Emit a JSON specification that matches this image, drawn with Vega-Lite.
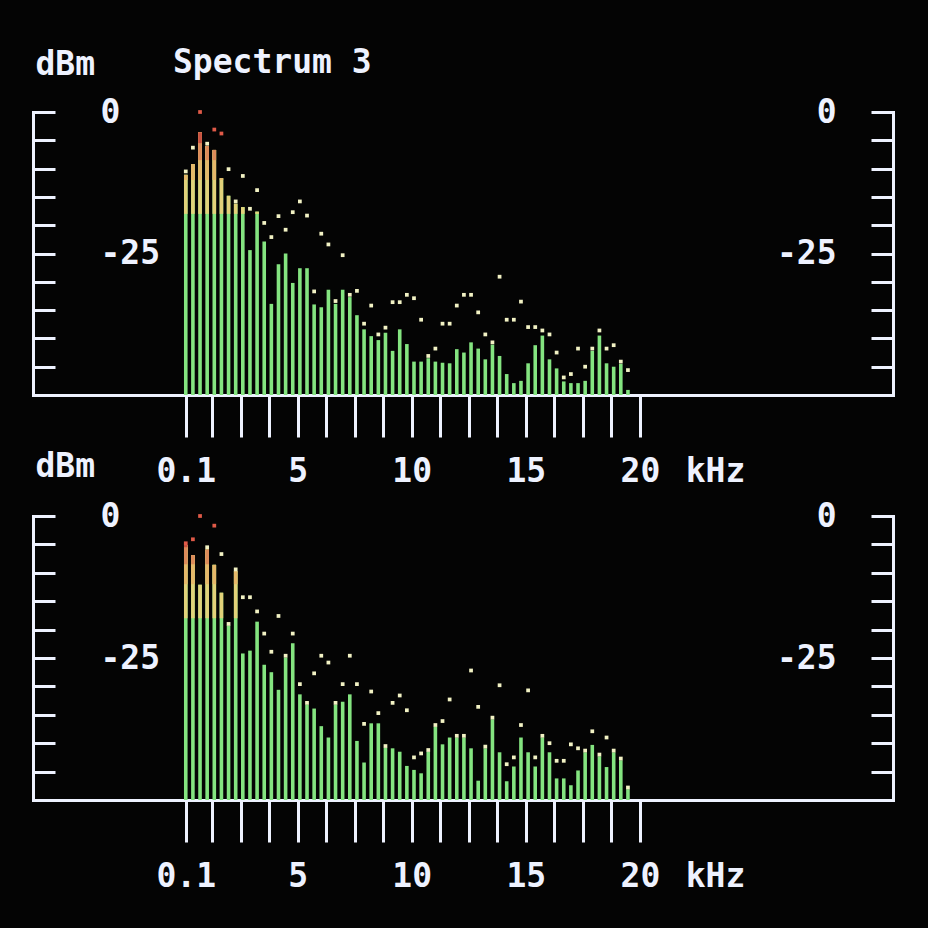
{
  "$schema": "https://vega.github.io/schema/vega-lite/v6.json",
  "background": "#040404",
  "padding": {"left": 31, "top": 47, "right": 35, "bottom": 130},
  "bounds": "flush",
  "spacing": 121,
  "config": {
    "view": {"stroke": null},
    "axis": {
      "grid": false,
      "domainColor": "#eef2ff",
      "domainWidth": 3,
      "domainCap": "square",
      "tickColor": "#eef2ff",
      "tickWidth": 3,
      "labelFont": "DejaVu Sans Mono",
      "labelFontSize": 33,
      "labelFontWeight": "bold",
      "labelColor": "#eef2ff",
      "labelFlush": false,
      "labelOverlap": false,
      "labelBound": false,
      "titleFont": "DejaVu Sans Mono",
      "titleFontSize": 33,
      "titleFontWeight": "bold",
      "titleColor": "#eef2ff"
    },
    "title": {"font": "DejaVu Sans Mono", "fontSize": 33, "fontWeight": "bold", "color": "#eef2ff"}
  },
  "datasets": {
    "top": [
      {"khz": 0.1, "db": -11.1, "peak": -10.5},
      {"khz": 0.4125, "db": -9.2, "peak": -6.3},
      {"khz": 0.725, "db": -3.6, "peak": 0},
      {"khz": 1.0375, "db": -6.0, "peak": -5.6},
      {"khz": 1.35, "db": -6.7, "peak": -3.1},
      {"khz": 1.6625, "db": -11.7, "peak": -3.8},
      {"khz": 1.975, "db": -14.8, "peak": -10.1},
      {"khz": 2.2875, "db": -16.2, "peak": -15.8},
      {"khz": 2.6, "db": -16.8, "peak": -11.3},
      {"khz": 2.9125, "db": -24.4, "peak": -17.1},
      {"khz": 3.225, "db": -17.6, "peak": -13.8},
      {"khz": 3.5375, "db": -22.9, "peak": -19.6},
      {"khz": 3.85, "db": -33.9, "peak": -22.1},
      {"khz": 4.1625, "db": -26.9, "peak": -18.4},
      {"khz": 4.475, "db": -25.0, "peak": -20.8},
      {"khz": 4.7875, "db": -30.2, "peak": -17.7},
      {"khz": 5.1, "db": -27.6, "peak": -15.8},
      {"khz": 5.4125, "db": -27.6, "peak": -18.3},
      {"khz": 5.725, "db": -34.0, "peak": -31.7},
      {"khz": 6.0375, "db": -34.5, "peak": -21.5},
      {"khz": 6.35, "db": -31.4, "peak": -23.4},
      {"khz": 6.6625, "db": -33.9, "peak": -33.4},
      {"khz": 6.975, "db": -31.4, "peak": -25.3},
      {"khz": 7.2875, "db": -32.7, "peak": -32.3},
      {"khz": 7.6, "db": -35.9, "peak": -31.6},
      {"khz": 7.9125, "db": -38.4, "peak": -37.4},
      {"khz": 8.225, "db": -39.6, "peak": -34.2},
      {"khz": 8.5375, "db": -40.3, "peak": -39.3},
      {"khz": 8.85, "db": -39.0, "peak": -38.1},
      {"khz": 9.1625, "db": -42.2, "peak": -33.6},
      {"khz": 9.475, "db": -38.4, "peak": -33.6},
      {"khz": 9.7875, "db": -41.0, "peak": -32.3},
      {"khz": 10.1, "db": -44.1, "peak": -32.9},
      {"khz": 10.4125, "db": -44.1, "peak": -36.7},
      {"khz": 10.725, "db": -43.5, "peak": -43.1},
      {"khz": 11.0375, "db": -44.1, "peak": -41.8},
      {"khz": 11.35, "db": -44.3, "peak": -37.4},
      {"khz": 11.6625, "db": -44.4, "peak": -37.4},
      {"khz": 11.975, "db": -41.9, "peak": -34.2},
      {"khz": 12.2875, "db": -42.5, "peak": -32.3},
      {"khz": 12.6, "db": -40.7, "peak": -32.3},
      {"khz": 12.9125, "db": -41.8, "peak": -35.4},
      {"khz": 13.225, "db": -43.7, "peak": -39.3},
      {"khz": 13.5375, "db": -41.1, "peak": -40.7},
      {"khz": 13.85, "db": -43.1, "peak": -29.1},
      {"khz": 14.1625, "db": -46.3, "peak": -36.7},
      {"khz": 14.475, "db": -47.9, "peak": -36.7},
      {"khz": 14.7875, "db": -47.5, "peak": -33.5},
      {"khz": 15.1, "db": -44.4, "peak": -38.0},
      {"khz": 15.4125, "db": -41.2, "peak": -38.0},
      {"khz": 15.725, "db": -39.5, "peak": -38.6},
      {"khz": 16.0375, "db": -43.7, "peak": -39.3},
      {"khz": 16.35, "db": -45.3, "peak": -42.5},
      {"khz": 16.6625, "db": -47.6, "peak": -46.9},
      {"khz": 16.975, "db": -47.9, "peak": -46.3},
      {"khz": 17.2875, "db": -47.9, "peak": -41.8},
      {"khz": 17.6, "db": -47.5, "peak": -45.0},
      {"khz": 17.9125, "db": -42.2, "peak": -41.8},
      {"khz": 18.225, "db": -39.5, "peak": -38.6},
      {"khz": 18.5375, "db": -44.4, "peak": -41.8},
      {"khz": 18.85, "db": -45.0, "peak": -41.2},
      {"khz": 19.1625, "db": -44.5, "peak": -44.1},
      {"khz": 19.475, "db": -49.1, "peak": -45.6}
    ],
    "bottom": [
      {"khz": 0.1, "db": -5.1, "peak": -4.8},
      {"khz": 0.4125, "db": -6.9, "peak": -4.1},
      {"khz": 0.725, "db": -12.1, "peak": 0},
      {"khz": 1.0375, "db": -5.9, "peak": -5.5},
      {"khz": 1.35, "db": -8.6, "peak": -1.7},
      {"khz": 1.6625, "db": -13.5, "peak": -6.7},
      {"khz": 1.975, "db": -19.3, "peak": -19.0},
      {"khz": 2.2875, "db": -9.7, "peak": -9.4},
      {"khz": 2.6, "db": -24.2, "peak": -14.3},
      {"khz": 2.9125, "db": -23.7, "peak": -14.3},
      {"khz": 3.225, "db": -18.6, "peak": -16.8},
      {"khz": 3.5375, "db": -26.2, "peak": -20.7},
      {"khz": 3.85, "db": -27.5, "peak": -23.9},
      {"khz": 4.1625, "db": -30.6, "peak": -17.6},
      {"khz": 4.475, "db": -24.9, "peak": -24.6},
      {"khz": 4.7875, "db": -22.4, "peak": -20.7},
      {"khz": 5.1, "db": -31.4, "peak": -29.6},
      {"khz": 5.4125, "db": -33.2, "peak": -32.9},
      {"khz": 5.725, "db": -33.9, "peak": -27.7},
      {"khz": 6.0375, "db": -37.0, "peak": -24.6},
      {"khz": 6.35, "db": -39.0, "peak": -25.8},
      {"khz": 6.6625, "db": -33.2, "peak": -32.9},
      {"khz": 6.975, "db": -32.7, "peak": -29.6},
      {"khz": 7.2875, "db": -31.4, "peak": -24.6},
      {"khz": 7.6, "db": -39.6, "peak": -29.6},
      {"khz": 7.9125, "db": -43.4, "peak": -36.6},
      {"khz": 8.225, "db": -36.5, "peak": -30.9},
      {"khz": 8.5375, "db": -36.5, "peak": -34.7},
      {"khz": 8.85, "db": -40.8, "peak": -40.5},
      {"khz": 9.1625, "db": -40.9, "peak": -32.9},
      {"khz": 9.475, "db": -41.5, "peak": -31.6},
      {"khz": 9.7875, "db": -44.0, "peak": -34.2},
      {"khz": 10.1, "db": -44.7, "peak": -42.5},
      {"khz": 10.4125, "db": -45.3, "peak": -41.8},
      {"khz": 10.725, "db": -41.5, "peak": -41.2},
      {"khz": 11.0375, "db": -37.1, "peak": -36.8},
      {"khz": 11.35, "db": -40.2, "peak": -36.1},
      {"khz": 11.6625, "db": -39.0, "peak": -32.3},
      {"khz": 11.975, "db": -39.0, "peak": -38.7},
      {"khz": 12.2875, "db": -39.0, "peak": -38.7},
      {"khz": 12.6, "db": -40.9, "peak": -27.2},
      {"khz": 12.9125, "db": -46.6, "peak": -33.6},
      {"khz": 13.225, "db": -40.9, "peak": -40.6},
      {"khz": 13.5375, "db": -35.8, "peak": -35.5},
      {"khz": 13.85, "db": -41.6, "peak": -29.8},
      {"khz": 14.1625, "db": -46.7, "peak": -43.7},
      {"khz": 14.475, "db": -44.1, "peak": -42.5},
      {"khz": 14.7875, "db": -39.0, "peak": -36.8},
      {"khz": 15.1, "db": -41.6, "peak": -30.7},
      {"khz": 15.4125, "db": -44.1, "peak": -42.5},
      {"khz": 15.725, "db": -39.0, "peak": -38.7},
      {"khz": 16.0375, "db": -41.6, "peak": -40.0},
      {"khz": 16.35, "db": -46.2, "peak": -43.1},
      {"khz": 16.6625, "db": -46.2, "peak": -43.1},
      {"khz": 16.975, "db": -47.4, "peak": -40.2},
      {"khz": 17.2875, "db": -44.8, "peak": -40.9},
      {"khz": 17.6, "db": -41.6, "peak": -41.3},
      {"khz": 17.9125, "db": -40.3, "peak": -37.9},
      {"khz": 18.225, "db": -42.3, "peak": -42.0},
      {"khz": 18.5375, "db": -44.2, "peak": -39.0},
      {"khz": 18.85, "db": -41.6, "peak": -41.3},
      {"khz": 19.1625, "db": -43.0, "peak": -42.7},
      {"khz": 19.475, "db": -48.1, "peak": -47.8}
    ]
  },
  "vconcat": [
    {
      "width": 860,
      "height": 283,
      "data": {"name": "top"},
      "title": {"text": "Spectrum 3", "anchor": "start", "frame": "group", "dx": 140, "offset": -32},
      "resolve": {"axis": {"y": "independent"}},
      "encoding": {
        "x": {"field": "khz", "type": "quantitative",
          "scale": {"domain": [-6.375, 30.87], "nice": false, "zero": false},
          "axis": {"orient": "bottom", "values": [0.1, 1.25, 2.5, 3.75, 5, 6.25, 7.5, 8.75, 10, 11.25, 12.5, 13.75, 15, 16.25, 17.5, 18.75, 20],
            "tickSize": 42, "labelPadding": 34, "labelBaseline": "middle",
            "labelExpr": "datum.value < 1 || datum.value % 5 === 0 ? toString(datum.value) : ''",
            "encode": {"ticks": {"update": {"y2": {"signal": "datum.value < 1 || datum.value % 5 === 0 ? 42 : 25"}}}},
            "title": "kHz", "titleX": 682, "titleY": 76, "titleAlign": "center", "titleBaseline": "middle", "titleAngle": 0}}
      },
      "layer": [
        {
          "mark": {"type": "bar", "width": 3.6, "color": "#84e480"},
          "encoding": {
            "y": {"field": "db", "type": "quantitative",
              "scale": {"domain": [-50, 0], "nice": false, "zero": false},
              "axis": {"orient": "left", "values": [-45, -40, -35, -30, -25, -20, -15, -10, -5, 0],
                "tickSize": -22, "labelPadding": -45, "labelAlign": "left", "labelBaseline": "middle",
                "labelExpr": "datum.value % 25 === 0 ? toString(datum.value) : ''",
                "encode": {"ticks": {"update": {"x2": {"signal": "datum.value % 25 === 0 ? 42 : 22"}}}},
                "title": "dBm", "titleAngle": 0, "titleAlign": "left", "titleBaseline": "middle", "titleX": 2, "titleY": -48}},
            "y2": {"datum": -50}
          }
        },
        {
          "transform": [{"filter": "datum.db > -18"}],
          "mark": {"type": "bar", "width": 3.6, "color": "#e2d27a"},
          "encoding": {
            "y": {"field": "db", "type": "quantitative", "axis": null},
            "y2": {"datum": -18}
          }
        },
        {
          "transform": [{"filter": "datum.db > -12"}],
          "mark": {"type": "bar", "width": 3.6, "color": "#e6b86a"},
          "encoding": {
            "y": {"field": "db", "type": "quantitative", "axis": null},
            "y2": {"datum": -12}
          }
        },
        {
          "transform": [{"filter": "datum.db > -8.5"}],
          "mark": {"type": "bar", "width": 3.6, "color": "#dc8a5a"},
          "encoding": {
            "y": {"field": "db", "type": "quantitative", "axis": null},
            "y2": {"datum": -8.5}
          }
        },
        {
          "transform": [{"filter": "datum.db > -5.5"}],
          "mark": {"type": "bar", "width": 3.6, "color": "#c85040"},
          "encoding": {
            "y": {"field": "db", "type": "quantitative", "axis": null},
            "y2": {"datum": -5.5}
          }
        },
        {
          "mark": {"type": "square", "size": 14, "filled": true, "opacity": 1},
          "encoding": {
            "y": {"field": "peak", "type": "quantitative",
              "axis": {"orient": "right", "values": [-45, -40, -35, -30, -25, -20, -15, -10, -5, 0],
                "tickSize": -22, "labelPadding": -35, "labelAlign": "right", "labelBaseline": "middle",
                "labelExpr": "datum.value % 25 === 0 ? toString(datum.value) : ''",
                "encode": {"ticks": {"update": {"x2": {"signal": "datum.value % 25 === 0 ? -42 : -22"}}}},
                "title": null}},
            "color": {"condition": {"test": "datum.peak > -5", "value": "#e05a48"}, "value": "#f2f2c4"}
          }
        }
      ]
    },
    {
      "width": 860,
      "height": 284,
      "data": {"name": "bottom"},
      "resolve": {"axis": {"y": "independent"}},
      "encoding": {
        "x": {"field": "khz", "type": "quantitative",
          "scale": {"domain": [-6.375, 30.87], "nice": false, "zero": false},
          "axis": {"orient": "bottom", "values": [0.1, 1.25, 2.5, 3.75, 5, 6.25, 7.5, 8.75, 10, 11.25, 12.5, 13.75, 15, 16.25, 17.5, 18.75, 20],
            "tickSize": 42, "labelPadding": 34, "labelBaseline": "middle",
            "labelExpr": "datum.value < 1 || datum.value % 5 === 0 ? toString(datum.value) : ''",
            "encode": {"ticks": {"update": {"y2": {"signal": "datum.value < 1 || datum.value % 5 === 0 ? 42 : 25"}}}},
            "title": "kHz", "titleX": 682, "titleY": 76, "titleAlign": "center", "titleBaseline": "middle", "titleAngle": 0}}
      },
      "layer": [
        {
          "mark": {"type": "bar", "width": 3.6, "color": "#84e480"},
          "encoding": {
            "y": {"field": "db", "type": "quantitative",
              "scale": {"domain": [-50, 0], "nice": false, "zero": false},
              "axis": {"orient": "left", "values": [-45, -40, -35, -30, -25, -20, -15, -10, -5, 0],
                "tickSize": -22, "labelPadding": -45, "labelAlign": "left", "labelBaseline": "middle",
                "labelExpr": "datum.value % 25 === 0 ? toString(datum.value) : ''",
                "encode": {"ticks": {"update": {"x2": {"signal": "datum.value % 25 === 0 ? 42 : 22"}}}},
                "title": "dBm", "titleAngle": 0, "titleAlign": "left", "titleBaseline": "middle", "titleX": 2, "titleY": -50}},
            "y2": {"datum": -50}
          }
        },
        {
          "transform": [{"filter": "datum.db > -18"}],
          "mark": {"type": "bar", "width": 3.6, "color": "#e2d27a"},
          "encoding": {
            "y": {"field": "db", "type": "quantitative", "axis": null},
            "y2": {"datum": -18}
          }
        },
        {
          "transform": [{"filter": "datum.db > -12"}],
          "mark": {"type": "bar", "width": 3.6, "color": "#e6b86a"},
          "encoding": {
            "y": {"field": "db", "type": "quantitative", "axis": null},
            "y2": {"datum": -12}
          }
        },
        {
          "transform": [{"filter": "datum.db > -8.5"}],
          "mark": {"type": "bar", "width": 3.6, "color": "#dc8a5a"},
          "encoding": {
            "y": {"field": "db", "type": "quantitative", "axis": null},
            "y2": {"datum": -8.5}
          }
        },
        {
          "transform": [{"filter": "datum.db > -5.5"}],
          "mark": {"type": "bar", "width": 3.6, "color": "#c85040"},
          "encoding": {
            "y": {"field": "db", "type": "quantitative", "axis": null},
            "y2": {"datum": -5.5}
          }
        },
        {
          "mark": {"type": "square", "size": 14, "filled": true, "opacity": 1},
          "encoding": {
            "y": {"field": "peak", "type": "quantitative",
              "axis": {"orient": "right", "values": [-45, -40, -35, -30, -25, -20, -15, -10, -5, 0],
                "tickSize": -22, "labelPadding": -35, "labelAlign": "right", "labelBaseline": "middle",
                "labelExpr": "datum.value % 25 === 0 ? toString(datum.value) : ''",
                "encode": {"ticks": {"update": {"x2": {"signal": "datum.value % 25 === 0 ? -42 : -22"}}}},
                "title": null}},
            "color": {"condition": {"test": "datum.peak > -5", "value": "#e05a48"}, "value": "#f2f2c4"}
          }
        }
      ]
    }
  ]
}
